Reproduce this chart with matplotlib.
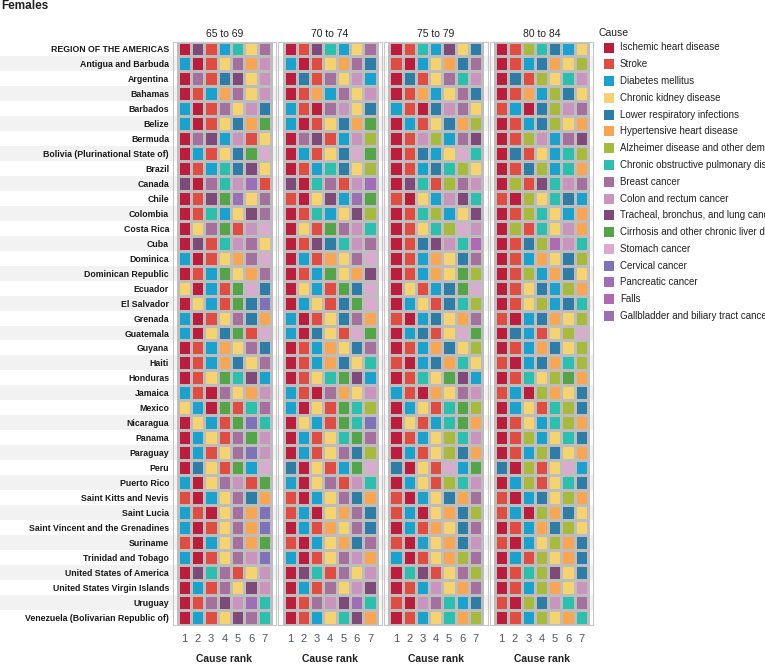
import numpy as np
import matplotlib
matplotlib.use('Agg')
import matplotlib.pyplot as plt
from matplotlib.colors import ListedColormap

plt.rcParams['font.family'] = ['Liberation Sans', 'DejaVu Sans']

# ============================================================
# DATA
# ============================================================

countries = [
    'REGION OF THE AMERICAS', 'Antigua and Barbuda', 'Argentina', 'Bahamas',
    'Barbados', 'Belize', 'Bermuda', 'Bolivia (Plurinational State of)',
    'Brazil', 'Canada', 'Chile', 'Colombia', 'Costa Rica', 'Cuba', 'Dominica',
    'Dominican Republic', 'Ecuador', 'El Salvador', 'Grenada', 'Guatemala',
    'Guyana', 'Haiti', 'Honduras', 'Jamaica', 'Mexico', 'Nicaragua', 'Panama',
    'Paraguay', 'Peru', 'Puerto Rico', 'Saint Kitts and Nevis', 'Saint Lucia',
    'Saint Vincent and the Grenadines', 'Suriname', 'Trinidad and Tobago',
    'United States of America', 'United States Virgin Islands', 'Uruguay',
    'Venezuela (Bolivarian Republic of)',
]

age_groups = ['65 to 69', '70 to 74', '75 to 79', '80 to 84']
ranks = [1, 2, 3, 4, 5, 6, 7]

# cause letter codes, legend order
cause_codes = list('ISDKLHACBRTZMVPFG')
cause_names = [
    'Ischemic heart disease', 'Stroke', 'Diabetes mellitus',
    'Chronic kidney disease', 'Lower respiratory infections',
    'Hypertensive heart disease', 'Alzheimer disease and other dementias',
    'Chronic obstructive pulmonary disease', 'Breast cancer',
    'Colon and rectum cancer', 'Tracheal, bronchus, and lung cancer',
    'Cirrhosis and other chronic liver diseases', 'Stomach cancer',
    'Cervical cancer', 'Pancreatic cancer', 'Falls',
    'Gallbladder and biliary tract cancer',
]
cause_colors = [
    '#BC1D3D', '#E04B42', '#1AA2CE', '#F5D36E', '#2E7DA6', '#F9A653',
    '#A7BA3B', '#2BBFAE', '#A4709E', '#C994BE', '#7D4A7A', '#53A548',
    '#D9ABCF', '#7E73B9', '#A06EB9', '#B06AB4', '#9A72B4',
]

# top-7 causes per country, one letter per rank
ranks_65_69 = [
    'ITSDCKB', 'DISKBHR', 'IBSLTKR', 'ISDHBKR', 'DISBKRL', 'DISKLHZ',
    'IBTDRSK', 'IDSKLZM', 'ISDCLTK', 'TIBCRPS', 'ISTZGKB', 'ISCDKTB',
    'IKBZSRM', 'ITSCRBK', 'DISKHBM', 'ISDZKHB', 'KIDSZML', 'IKDSZLV',
    'DISKBLH', 'DIKLZSM', 'ISDHKBL', 'ISDHLKB', 'ISKZCTD', 'DSIBKHR',
    'KDIZSCB', 'IKDSZVC', 'IDKSBZR', 'IDSKBVR', 'ILKSZDM', 'DIKBRSZ',
    'SIDKBLH', 'DSIKBHV', 'DISKBHV', 'SIDKBHZ', 'DISKBRV', 'ITCBSKR',
    'IDSBKTR', 'ISBTRPC', 'IDSKTBC',
]
ranks_70_74 = [
    'ISTCDKB', 'DISKHBL', 'ILSBKRD', 'ISHDBKR', 'DSIBRKL', 'DISKLHZ',
    'IBTSDRA', 'IDSKLMZ', 'ISDCLKA', 'TICBSRP', 'SIKTDGZ', 'ISCDKTA',
    'IKSZBRC', 'ISTLCRB', 'IDSHKBM', 'ISDZKHT', 'IKDSZLM', 'IDKSLZM',
    'DISKLBH', 'DILKSMZ', 'ISDHKLB', 'ISDHLKC', 'ISKCZTD', 'DSIBHKR',
    'DIKSZCA', 'IKDSZCV', 'IDSKCZB', 'IDSKBLA', 'LIKSDZM', 'DIKBSRC',
    'SIDKBLH', 'SDIKHBL', 'IDSHKBL', 'SIDKHLB', 'DISKBRH', 'ITCSBKR',
    'IDSBKRT', 'ISBRTPC', 'ISDKCTH',
]
ranks_75_79 = [
    'ISCDTKL', 'SIDKHLB', 'ILSKBCR', 'ISHDKBL', 'DSILRBK', 'IDSKLHA',
    'ISRADBT', 'ISLDKMC', 'ISDLCAK', 'ITCSABR', 'SIKDRTC', 'ISCADKT',
    'ISKCAMR', 'ISLTRCF', 'ISDHKLB', 'ISDHKZA', 'IKSDLZM', 'IDKSLCA',
    'SIDLKHB', 'IDLSKMZ', 'ISDHLKA', 'SIDLHCK', 'ISCKZTD', 'DSIHKBR',
    'IDKSCZA', 'IKSDCZH', 'ISDKACR', 'IDSKALH', 'LIKSMDZ', 'IDKSACR',
    'SIDKLHB', 'SDIKHLA', 'IDSHKLB', 'SIDKHLR', 'DISKHAB', 'ICTSKBA',
    'ISDRKHB', 'SIRBCDL', 'ISDKCHA',
]
ranks_80_84 = [
    'ISACLDK', 'ISDLHKA', 'ILSAKCR', 'ISHDALK', 'SDILARB', 'ISDLAKH',
    'ISARDBT', 'ILSKDCA', 'ISLADCH', 'IASTCRB', 'SIAKCLD', 'ISACKDH',
    'IASCKRH', 'ISLAFRC', 'ISDHKLA', 'ISADHLK', 'ISKLDAH', 'ISKADLC',
    'SIDLHKA', 'ILDSKAM', 'ISDHLKA', 'SIDLHCA', 'ISCKAZH', 'SDIAHKL',
    'IDKSCAL', 'ISKDCAH', 'ISADKCL', 'ISDALKH', 'LIASKMD', 'IDASKCL',
    'SIDLKAH', 'SDIAHLK', 'ISDHLAK', 'SIDKAHL', 'IDSAKHL', 'ISCATKL',
    'ISDAHKR', 'SIALRCB', 'ISDAKHC',
]
panels = [ranks_65_69, ranks_70_74, ranks_75_79, ranks_80_84]

# ============================================================
# LAYOUT (pixels)
# ============================================================

W, H = 765, 664
n_rows = len(countries)
top_px, bot_px = 41.5, 624.5
panel_left0, panel_step, panel_w = 172.5, 105.7, 103.8

cmap = ListedColormap(cause_colors)
code_idx = {c: i for i, c in enumerate(cause_codes)}

fig = plt.figure(figsize=(W / 100, H / 100), dpi=100)
fig.patch.set_facecolor('white')

# alternating row bands behind everything
ax_bg = fig.add_axes([0, 1 - bot_px / H, 593.5 / W, (bot_px - top_px) / H])
ax_bg.set_xlim(0, 1)
ax_bg.set_ylim(n_rows - 0.5, -0.5)
for r in range(1, n_rows, 2):
    ax_bg.axhspan(r - 0.5, r + 0.5, color='#F2F2F2', lw=0)
ax_bg.axis('off')

x_edges = np.arange(len(ranks) + 1) + 0.5
y_edges = np.arange(n_rows + 1) - 0.5

for k, (age, data) in enumerate(zip(age_groups, panels)):
    left = panel_left0 + k * panel_step
    ax = fig.add_axes([left / W, 1 - bot_px / H, panel_w / W, (bot_px - top_px) / H])
    ax.set_facecolor('none')
    grid = np.array([[code_idx[c] for c in row] for row in data])
    ax.pcolormesh(x_edges, y_edges, grid, cmap=cmap, vmin=-0.5,
                  vmax=len(cause_codes) - 0.5, edgecolors='#BDBDBD', linewidth=1.0)
    ax.set_xlim(0.1, 7.9)
    ax.set_ylim(n_rows - 0.5, -0.5)
    ax.set_xticks(ranks)
    ax.set_xticklabels([str(r) for r in ranks], fontsize=8, color='#4A5866')
    ax.tick_params(axis='x', length=0, pad=7)
    if k == 0:
        ax.set_yticks(range(n_rows))
        ax.set_yticklabels(countries, fontsize=6.3, fontweight='bold', color='#1A1A1A')
        ax.tick_params(axis='y', length=0, pad=2.5)
    else:
        ax.set_yticks([])
    for sp in ax.spines.values():
        sp.set_color('#C8C8C8')
        sp.set_linewidth(0.8)
    ax.set_title(age, fontsize=7.5, color='#222222', pad=3)
    ax.set_xlabel('Cause rank', fontsize=7.5, fontweight='bold', color='#222222', labelpad=7)

# overlay for title and legend
ax_o = fig.add_axes([0, 0, 1, 1])
ax_o.set_xlim(0, W)
ax_o.set_ylim(H, 0)
ax_o.axis('off')
ax_o.text(1, 6, 'Females', fontsize=8.5, fontweight='bold', color='#222222', va='center', ha='left')
ax_o.text(599, 33, 'Cause', fontsize=7.5, color='#222222', va='center', ha='left')
for i, (name, col) in enumerate(zip(cause_names, cause_colors)):
    yc = 47.5 + i * 16.78
    ax_o.scatter([609.5], [yc], marker='s', s=42, color=col, linewidths=0)
    ax_o.text(620, yc, name, fontsize=7, color='#222222', va='center', ha='left')

fig.savefig('out.png', dpi=100)
